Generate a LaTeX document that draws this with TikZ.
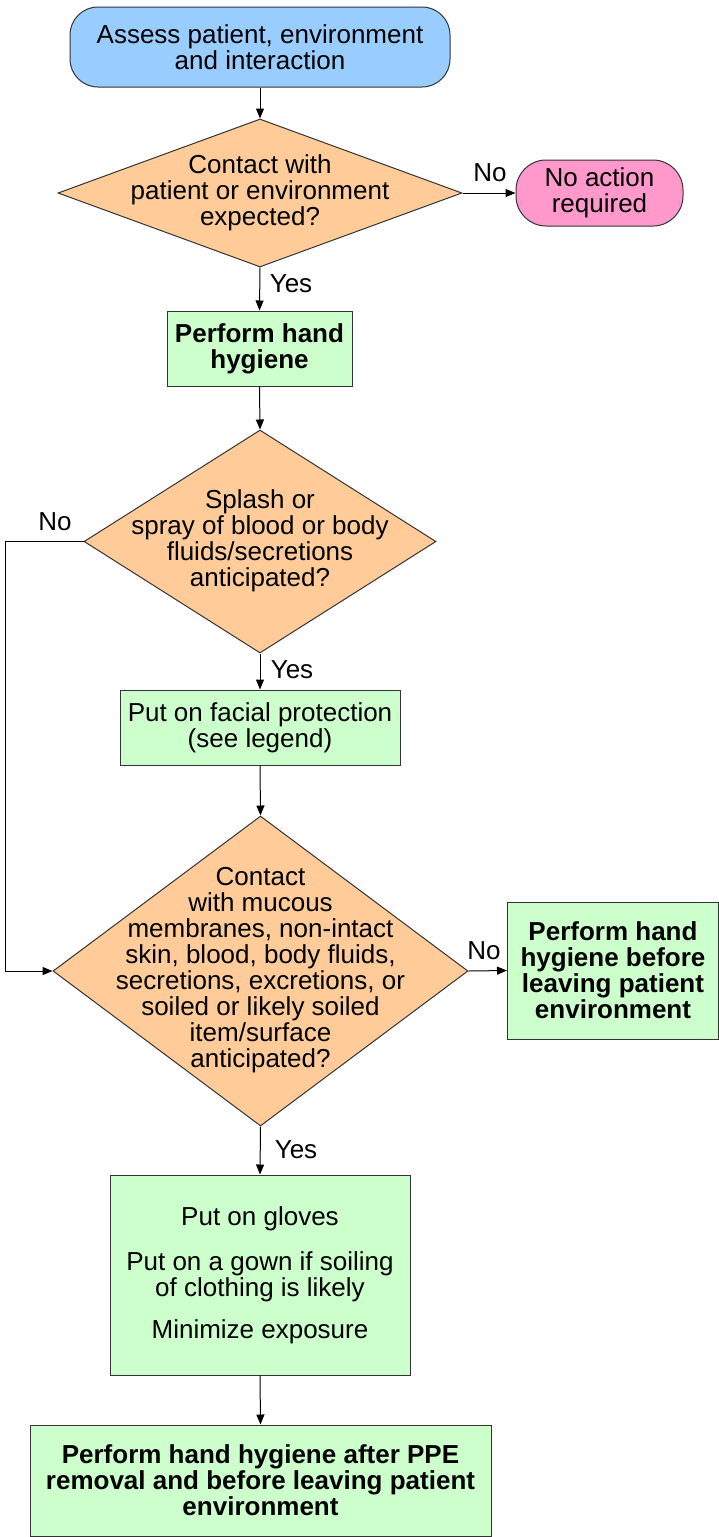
\documentclass[tikz,border=0pt]{standalone}
\usepackage{fontspec}
\setmainfont{Liberation Sans}
\usetikzlibrary{shapes.geometric,arrows.meta}
\definecolor{startblue}{HTML}{99CCFF}
\definecolor{decorange}{HTML}{FFCC99}
\definecolor{endpink}{HTML}{FF99CC}
\definecolor{boxgreen}{HTML}{CCFFCC}
\begin{document}
\begin{tikzpicture}[x=1pt,y=-1pt,
  txt/.style={font=\fontsize{26}{26}\selectfont, align=center, inner sep=0pt},
  shp/.style={draw=black!80, line width=1pt, inner sep=0pt},
  greenbox/.style={shp, fill=boxgreen, rectangle, txt},
  decision/.style={shp, fill=decorange, diamond},
  terminal/.style={shp, rectangle, txt},
  boldtxt/.style={font=\fontsize{26}{26}\selectfont\bfseries},
  arr/.style={line width=1pt, -{Triangle[length=10pt,width=8pt]}},
  lbl/.style={txt}
]
\useasboundingbox (0,0) rectangle (719,1537);

% nodes
\node[terminal, fill=startblue, rounded corners=28pt, minimum width=380pt, minimum height=80pt] (start) at (260,47) {Assess patient, environment\\and interaction};

\node[decision, minimum width=404pt, minimum height=148pt] (d1) at (260,193) {};
\node[txt] (d1t) at (260,193) {Contact with\\patient or environment\\expected?};

\node[terminal, fill=endpink, rounded corners=30pt, minimum width=167pt, minimum height=66pt] (noact) at (599.5,193) {No action\\required};

\node[greenbox, boldtxt, minimum width=185pt, minimum height=75pt] (hh1) at (259.5,348.5) {Perform hand\\hygiene};

\node[decision, minimum width=352pt, minimum height=223pt] (d2) at (260,541.5) {};
\node[txt] (d2t) at (260,541) {Splash or\\spray of blood or body\\fluids/secretions\\anticipated?};

\node[greenbox, minimum width=280pt, minimum height=75pt] (face) at (260,727.5) {Put on facial protection\\(see legend)};

\node[decision, minimum width=415pt, minimum height=310pt] (d3) at (260.5,971) {};
\node[txt] (d3t) at (260.5,970) {Contact\\with mucous\\membranes, non-intact\\skin, blood, body fluids,\\secretions, excretions, or\\soiled or likely soiled\\item/surface\\anticipated?};

\node[greenbox, boldtxt, minimum width=211pt, minimum height=137pt] (hhr) at (613,970.5) {Perform hand\\hygiene before\\leaving patient\\environment};

\node[greenbox, minimum width=300pt, minimum height=200pt] (gloves) at (260,1275) {Put on gloves\\[19pt]Put on a gown if soiling\\of clothing is likely\\[16pt]Minimize exposure};

\node[greenbox, boldtxt, minimum width=461pt, minimum height=111pt] (final) at (260.5,1480.5) {Perform hand hygiene after PPE\\removal and before leaving patient\\environment};

% connectors
\draw[arr] (start.south) -- (d1.north);
\draw[arr] (d1.east) -- (noact.west);
\draw[arr] (d1.south) -- (hh1.north);
\draw[arr] (hh1.south) -- (d2.north);
\draw[arr] (d2.south) -- (face.north);
\draw[arr] (face.south) -- (d3.north);
\coordinate (c1) at (5,541.5);
\coordinate (c2) at (5,971);
\draw[arr] (d2.west) -- (c1) -- (c2) -- (d3.west);
\draw[arr] (d3.east) -- (hhr.west);
\draw[arr] (d3.south) -- (gloves.north);
\draw[arr] (gloves.south) -- (final.north);

% labels
\node[lbl] (l1) at (490,173) {No};
\node[lbl] (l2) at (291,284) {Yes};
\node[lbl] (l3) at (55,522) {No};
\node[lbl] (l4) at (292,670) {Yes};
\node[lbl] (l5) at (484,951) {No};
\node[lbl] (l6) at (296,1150) {Yes};
\end{tikzpicture}
\end{document}
